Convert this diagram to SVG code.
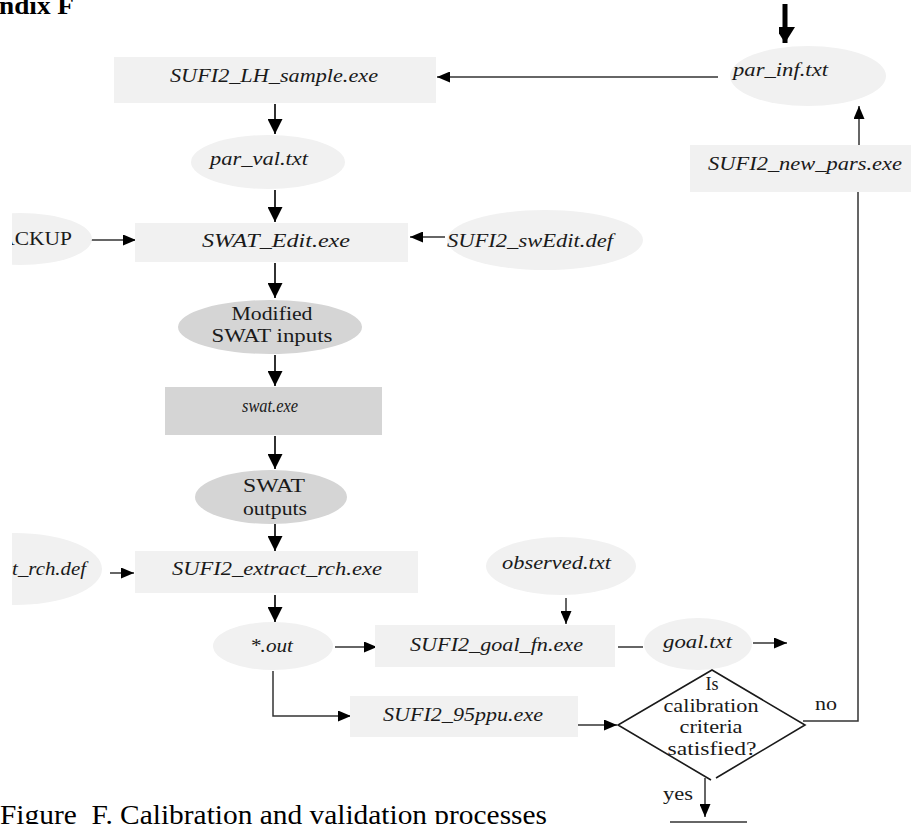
<svg xmlns="http://www.w3.org/2000/svg" width="911" height="824" viewBox="0 0 911 824">
  <style>
    .lt { fill: #f1f1f1; }
    .dk { fill: #d5d5d5; }
    .it { font-family: "Liberation Serif", "Times New Roman", serif; font-style: italic; font-size: 18px; fill: #1a1a1a; }
    .rm { font-family: "Liberation Serif", "Times New Roman", serif; font-size: 18px; fill: #1a1a1a; }
    .ln { fill: none; stroke: #1a1a1a; stroke-width: 1.8; }
    .thin { fill: none; stroke: #333; stroke-width: 1.5; }
  </style>
  <defs>
    <marker id="big" markerUnits="userSpaceOnUse" markerWidth="15" markerHeight="15" refX="15" refY="7.5" orient="auto">
      <path d="M0,0 L15,7.5 L0,15 Z" fill="#000"/>
    </marker>
    <marker id="small" markerUnits="userSpaceOnUse" markerWidth="13" markerHeight="11" refX="13" refY="5.5" orient="auto">
      <path d="M0,0 L13,5.5 L0,11 Z" fill="#000"/>
    </marker>
    <marker id="top" markerUnits="userSpaceOnUse" markerWidth="20" markerHeight="16" refX="16" refY="10" orient="auto">
      <path d="M0,0 L16,10 L0,20 Z" fill="#000"/>
    </marker>
    <clipPath id="edge">
      <rect x="12" y="0" width="899" height="824"/>
    </clipPath>
  </defs>

  <!-- heading (page header, partly above the frame) -->
  <text x="-1" y="14" font-family="Liberation Serif, Times New Roman, serif" font-weight="bold" font-size="26" textLength="75" lengthAdjust="spacingAndGlyphs">ndix F</text>

  <!-- connectors -->
  <g id="connectors">
    <path class="thin" d="M718,77 H437" marker-end="url(#small)"/>
    <path class="ln" d="M275,104 V134" marker-end="url(#big)"/>
    <path class="ln" d="M275,190 V222" marker-end="url(#big)"/>
    <path class="thin" d="M91,240 H136" marker-end="url(#small)"/>
    <path class="thin" d="M445,237 H410" marker-end="url(#small)"/>
    <path class="ln" d="M275,263 V298" marker-end="url(#big)"/>
    <path class="ln" d="M275,355 V386" marker-end="url(#big)"/>
    <path class="ln" d="M275,436 V469" marker-end="url(#big)"/>
    <path class="ln" d="M275,524 V551" marker-end="url(#big)"/>
    <path class="thin" d="M110,573 H134" marker-end="url(#small)"/>
    <path class="ln" d="M275,595 V622" marker-end="url(#big)"/>
    <path class="thin" d="M335,647 H377" marker-end="url(#small)"/>
    <path class="thin" d="M566,598 V624" marker-end="url(#small)"/>
    <path class="thin" d="M618,647 H643"/>
    <path class="thin" d="M753,643 H787" marker-end="url(#small)"/>
    <path class="thin" d="M273,671 V716 H351" marker-end="url(#small)"/>
    <path class="thin" d="M578,725 H617" marker-end="url(#small)"/>
    <path class="thin" d="M803,721 H858 V192"/>
    <path class="thin" d="M859,145 V106" marker-end="url(#small)"/>
    <path d="M785,4 V43" fill="none" stroke="#000" stroke-width="5" marker-end="url(#top)"/>
    <path class="thin" d="M705,778 V817" marker-end="url(#small)"/>
    <path class="thin" d="M670,822 H747"/>
  </g>

  <g id="par_inf">
    <ellipse class="lt" cx="808" cy="76" rx="78" ry="30"/>
    <text class="it" x="733" y="76" textLength="95" lengthAdjust="spacingAndGlyphs">par_inf.txt</text>
  </g>

  <g id="lh_sample">
    <rect class="lt" x="114" y="57" width="322" height="46"/>
    <text class="it" x="170" y="82" textLength="208" lengthAdjust="spacingAndGlyphs">SUFI2_LH_sample.exe</text>
  </g>

  <g id="new_pars">
    <rect class="lt" x="690" y="145" width="221" height="47"/>
    <text class="it" x="708" y="170" textLength="194" lengthAdjust="spacingAndGlyphs">SUFI2_new_pars.exe</text>
  </g>

  <g id="par_val">
    <ellipse class="lt" cx="268" cy="162" rx="77" ry="27"/>
    <text class="it" x="210" y="165" textLength="98" lengthAdjust="spacingAndGlyphs">par_val.txt</text>
  </g>

  <g id="backup" clip-path="url(#edge)">
    <ellipse class="lt" cx="20" cy="239" rx="72" ry="26"/>
    <text class="rm" x="72" y="245" text-anchor="end" textLength="87" lengthAdjust="spacingAndGlyphs">BACKUP</text>
  </g>

  <g id="swat_edit">
    <rect class="lt" x="135" y="223" width="273" height="39"/>
    <text class="it" x="202" y="247" textLength="148" lengthAdjust="spacingAndGlyphs">SWAT_Edit.exe</text>
  </g>

  <g id="swedit_def">
    <ellipse class="lt" cx="545" cy="240" rx="98" ry="30"/>
    <text class="it" x="447" y="247" textLength="166" lengthAdjust="spacingAndGlyphs">SUFI2_swEdit.def</text>
  </g>

  <g id="modified_inputs">
    <ellipse class="dk" cx="270" cy="327" rx="92" ry="27"/>
    <text class="rm" x="272" y="320" text-anchor="middle" textLength="81" lengthAdjust="spacingAndGlyphs">Modified</text>
    <text class="rm" x="272" y="342" text-anchor="middle" textLength="121" lengthAdjust="spacingAndGlyphs">SWAT inputs</text>
  </g>

  <g id="swat_exe">
    <rect class="dk" x="165" y="387" width="217" height="48"/>
    <text class="it" x="270" y="412" text-anchor="middle" textLength="56" lengthAdjust="spacingAndGlyphs">swat.exe</text>
  </g>

  <g id="swat_outputs">
    <ellipse class="dk" cx="271" cy="497" rx="76" ry="27"/>
    <text class="rm" x="274" y="492" text-anchor="middle" textLength="62" lengthAdjust="spacingAndGlyphs">SWAT</text>
    <text class="rm" x="275" y="515" text-anchor="middle" textLength="64" lengthAdjust="spacingAndGlyphs">outputs</text>
  </g>

  <g id="extract_def" clip-path="url(#edge)">
    <ellipse class="lt" cx="15" cy="569" rx="87" ry="36"/>
    <text class="it" x="86" y="575" text-anchor="end" textLength="192" lengthAdjust="spacingAndGlyphs">SUFI2_extract_rch.def</text>
  </g>

  <g id="extract_exe">
    <rect class="lt" x="135" y="551" width="283" height="42"/>
    <text class="it" x="172" y="575" textLength="210" lengthAdjust="spacingAndGlyphs">SUFI2_extract_rch.exe</text>
  </g>

  <g id="observed">
    <ellipse class="lt" cx="561" cy="566" rx="75" ry="29"/>
    <text class="it" x="502" y="569" textLength="109" lengthAdjust="spacingAndGlyphs">observed.txt</text>
  </g>

  <g id="out_files">
    <ellipse class="lt" cx="273" cy="646" rx="60" ry="24"/>
    <text class="it" x="250" y="652" textLength="43" lengthAdjust="spacingAndGlyphs">*.out</text>
  </g>

  <g id="goal_fn">
    <rect class="lt" x="375" y="625" width="240" height="42"/>
    <text class="it" x="410" y="651" textLength="173" lengthAdjust="spacingAndGlyphs">SUFI2_goal_fn.exe</text>
  </g>

  <g id="goal_txt">
    <ellipse class="lt" cx="698" cy="644" rx="54" ry="26"/>
    <text class="it" x="663" y="648" textLength="69" lengthAdjust="spacingAndGlyphs">goal.txt</text>
  </g>

  <g id="ppu">
    <rect class="lt" x="350" y="696" width="228" height="41"/>
    <text class="it" x="383" y="721" textLength="160" lengthAdjust="spacingAndGlyphs">SUFI2_95ppu.exe</text>
  </g>

  <g id="decision">
    <path d="M711,780 L618,725 L712,670 L805,725 L716,778" fill="#fff" stroke="#1a1a1a" stroke-width="1.6"/>
    <text class="rm" x="712" y="690" text-anchor="middle">Is</text>
    <text class="rm" x="711" y="712" text-anchor="middle" textLength="95" lengthAdjust="spacingAndGlyphs">calibration</text>
    <text class="rm" x="711" y="733" text-anchor="middle" textLength="63" lengthAdjust="spacingAndGlyphs">criteria</text>
    <text class="rm" x="712" y="755" text-anchor="middle" textLength="89" lengthAdjust="spacingAndGlyphs">satisfied?</text>
  </g>

  <text class="rm" x="815" y="710" textLength="22" lengthAdjust="spacingAndGlyphs">no</text>
  <text class="rm" x="663" y="800" textLength="30" lengthAdjust="spacingAndGlyphs">yes</text>

  <!-- figure caption -->
  <text x="0" y="824" xml:space="preserve" font-family="Liberation Serif, Times New Roman, serif" font-size="28" textLength="547" lengthAdjust="spacingAndGlyphs">Figure  F. Calibration and validation processes</text>
</svg>
